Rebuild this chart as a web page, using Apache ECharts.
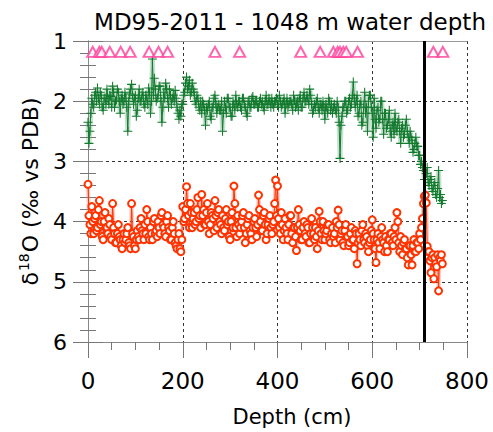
<!DOCTYPE html>
<html>
<head>
<meta charset="utf-8">
<script src="https://cdn.jsdelivr.net/npm/echarts@6/dist/echarts.min.js"></script>
<style>
html,body{margin:0;padding:0;background:#fff;}
#chart{width:493px;height:432px;}
</style>
</head>
<body>
<div id="chart"></div>
<script>
// Depth (cm) of samples
const depth = [
0,2,4,6,8,10,12,14,16,18,20,22,24,26,28,30,32,34,36,38,
40,42,44,46,48,50,52,54,56,58,60,62,64,66,68,70,72,74,76,78,
80,82,84,86,88,90,92,94,96,98,100,102,104,106,108,110,112,114,116,118,
120,122,124,126,128,130,132,134,136,138,140,142,144,146,148,150,152,154,156,158,
160,162,164,166,168,170,172,174,176,178,180,182,184,186,188,190,192,194,196,198,
200,202,204,206,208,210,212,214,216,218,220,222,224,226,228,230,232,234,236,238,
240,242,244,246,248,250,252,254,256,258,260,262,264,266,268,270,272,274,276,278,
280,282,284,286,288,290,292,294,296,298,300,302,304,306,308,310,312,314,316,318,
320,322,324,326,328,330,332,334,336,338,340,342,344,346,348,350,352,354,356,358,
360,362,364,366,368,370,372,374,376,378,380,382,384,386,388,390,392,394,396,398,
400,402,404,406,408,410,412,414,416,418,420,422,424,426,428,430,432,434,436,438,
440,442,444,446,448,450,452,454,456,458,460,462,464,466,468,470,472,474,476,478,
480,482,484,486,488,490,492,494,496,498,500,502,504,506,508,510,512,514,516,518,
520,522,524,526,528,530,532,534,536,538,540,542,544,546,548,550,552,554,556,558,
560,562,564,566,568,570,572,574,576,578,580,582,584,586,588,590,592,594,596,598,
600,602,604,606,608,610,612,614,616,618,620,622,624,626,628,630,632,634,636,638,
640,642,644,646,648,650,652,654,656,658,660,662,664,666,668,670,672,674,676,678,
680,682,684,686,688,690,692,694,696,698,700,702,704,706,708,710,712,714,716,718,
720,722,724,726,728,730,732,734,736,738,740,742,744,746,748
];
// Benthic d18O (green)
const benthic = [
2.35,2.7,2.5,2.2,1.95,2.05,2.1,1.9,1.85,2.0,1.78,1.95,2.05,1.85,1.9,2.1,2.15,1.95,1.95,2.05,
1.8,1.95,2.05,1.9,1.92,2.1,1.75,1.85,2.1,2.0,1.98,1.8,1.85,2.0,2.2,1.95,1.9,2.05,2.0,1.85,
1.95,2.1,2.5,2.0,1.88,1.8,1.72,1.9,2.05,1.95,1.9,2.25,2.15,1.95,1.8,2.0,2.0,1.9,1.85,2.05,
2.1,1.9,1.95,2.05,1.78,1.85,2.2,2.0,1.3,1.9,1.62,1.8,2.0,1.95,1.9,1.75,1.75,2.0,2.35,2.1,
1.85,1.95,1.7,1.8,1.95,2.1,1.8,1.9,2.05,1.95,1.9,2.0,1.82,1.95,2.1,2.2,2.3,2.15,2.25,2.05,
2.05,1.9,1.85,1.7,1.6,1.8,1.75,1.65,1.9,1.85,1.7,1.8,1.85,2.0,2.05,1.9,1.95,2.1,2.15,2.0,
2.2,2.0,2.05,2.15,2.4,2.1,2.15,2.05,2.0,2.25,2.3,2.1,2.1,1.95,1.9,2.05,2.2,2.1,2.05,2.15,
2.15,2.0,2.5,2.2,2.0,2.1,2.2,1.95,1.95,2.1,2.1,2.25,2.25,2.0,2.05,2.15,1.9,2.05,2.1,2.0,
2.0,2.1,2.15,1.95,1.95,2.05,2.1,2.2,2.25,2.0,2.0,2.1,2.1,1.95,1.92,2.05,2.05,2.0,2.0,2.1,
2.1,2.0,1.95,2.05,2.0,2.1,2.15,2.0,1.9,2.05,2.05,1.95,2.0,2.1,1.95,2.05,2.1,2.0,2.0,1.95,
2.05,2.1,1.9,2.0,2.1,2.05,2.0,1.95,2.2,2.05,1.95,2.1,2.05,2.0,2.0,2.05,2.15,1.9,1.98,2.1,
2.05,2.0,2.15,1.95,1.9,2.1,2.1,1.95,1.85,2.0,2.0,1.9,1.95,2.05,1.8,1.9,2.05,2.2,2.15,2.05,
2.1,2.0,1.95,2.1,2.2,2.05,2.05,2.15,2.0,2.1,2.3,2.05,2.1,2.2,1.95,2.0,2.15,2.05,2.2,2.1,
2.05,2.15,2.2,2.0,2.1,2.35,2.95,2.4,2.25,2.1,2.1,2.0,2.0,2.2,2.15,2.0,1.95,2.1,2.05,1.9,
1.68,1.95,2.1,2.0,1.9,2.25,2.2,2.05,2.0,2.4,2.35,2.1,1.85,2.2,2.1,2.5,2.0,1.9,1.9,2.1,
2.2,2.6,1.95,2.3,2.45,2.15,2.1,2.35,2.3,2.0,2.0,2.3,2.55,2.2,2.2,2.45,2.4,2.3,2.15,2.5,
2.6,2.4,2.35,2.55,2.2,2.45,2.5,2.35,2.3,2.5,2.7,2.45,2.4,2.6,2.55,2.4,2.3,2.5,2.6,2.7,
2.5,2.6,2.65,2.85,2.8,2.7,2.6,2.75,2.75,2.9,2.9,3.05,3.0,3.1,3.15,3.3,3.3,3.2,3.1,3.35,
3.4,3.3,3.25,3.45,3.5,3.4,3.35,3.55,3.6,3.45,3.15,3.6,3.55,3.7,3.65
];
// Planktonic d18O (red)
const planktonic = [
3.38,3.9,4.05,4.2,3.75,4.0,4.2,3.95,3.9,4.15,4.1,3.8,3.65,4.05,4.0,4.25,4.3,4.0,3.85,4.1,
4.1,4.2,3.95,4.05,4.25,4.3,3.7,4.1,4.2,4.35,4.35,4.2,4.05,4.25,4.3,4.4,4.45,4.3,4.2,4.35,
4.3,4.2,4.1,4.35,4.4,4.45,3.7,4.2,4.25,4.4,4.45,4.3,4.15,4.25,4.3,4.1,3.95,4.15,4.2,4.3,
4.05,4.2,3.8,4.0,4.25,4.3,4.1,4.2,4.3,4.0,3.95,4.2,4.15,4.25,4.0,4.1,4.2,3.9,3.85,4.05,
4.1,4.2,4.25,4.0,3.9,4.1,4.15,4.3,4.3,4.1,4.0,4.2,4.35,4.4,4.45,4.3,4.2,4.45,4.5,4.3,
3.75,4.0,3.95,3.8,3.42,3.7,3.9,4.1,3.7,3.85,4.1,3.95,3.85,4.05,4.0,3.8,3.6,3.95,3.9,4.1,
3.55,3.9,3.8,4.05,4.05,3.85,3.7,4.0,4.2,4.05,3.85,3.9,3.95,4.15,3.65,3.9,4.1,3.85,3.8,4.0,
4.05,4.2,3.9,4.1,4.15,3.95,3.8,4.05,4.0,4.25,4.3,4.0,3.85,4.1,3.41,3.7,4.1,4.25,3.9,4.05,
4.2,4.1,4.0,3.9,3.85,4.1,4.35,4.2,4.05,3.95,3.9,4.15,4.2,4.3,4.1,4.0,3.95,4.1,4.25,4.05,
3.56,3.8,4.0,4.15,4.15,3.9,3.85,4.05,4.3,4.2,4.05,3.95,3.9,4.1,4.2,4.05,4.0,3.7,3.31,3.9,
3.41,3.95,4.1,4.2,3.85,4.05,4.3,4.15,3.95,4.1,4.2,4.3,4.05,3.9,3.9,4.2,4.35,4.1,4.1,4.25,
4.48,4.1,3.8,4.05,4.15,4.3,4.3,4.1,4.0,4.2,4.25,4.05,4.1,4.35,4.35,4.2,3.95,4.1,4.2,4.3,
4.1,4.25,4.45,4.15,3.83,4.0,4.2,4.3,4.0,4.15,4.3,4.2,4.15,4.05,4.05,4.3,4.35,4.2,4.1,4.25,
4.2,4.35,4.0,4.1,3.81,4.05,4.3,4.2,4.15,4.35,4.4,4.15,4.05,4.25,4.25,4.4,4.35,4.2,4.1,4.3,
4.3,4.45,4.15,4.2,4.7,4.35,4.2,4.3,4.4,4.15,4.05,4.3,4.35,4.2,4.25,4.4,4.5,4.35,4.3,4.15,
3.97,4.2,4.3,4.45,4.68,4.3,4.2,4.35,4.45,4.25,4.1,4.3,4.35,4.5,4.25,4.4,4.5,4.3,4.3,4.2,
4.2,4.35,4.4,4.25,4.1,4.3,3.85,4.0,4.35,4.5,4.25,4.4,4.55,4.35,4.3,4.45,4.45,4.6,4.72,4.4,
4.4,4.55,4.72,4.4,4.3,4.5,4.5,4.35,4.35,4.45,4.2,4.3,4.1,3.95,3.7,3.58,3.56,3.69,4.41,4.5,
4.5,4.65,4.85,4.6,4.55,4.95,4.6,4.7,4.75,4.55,5.15,4.6,4.65,4.55,4.7
];
// Age-control markers (triangles) and boundary line
const markerDepth = [10,24,29,46,69,89,129,149,168,268,320,449,490,518,527,532,539,545,569,729,749];
const markerLevel = 1.18;
const boundaryDepth = 710;

const FONT = 'DejaVu Sans';
const green = '#137a2e';
const red = '#ff3300';
const pink = '#ff3d9a';

const benthicData = depth.map((d, i) => [d, benthic[i]]);
const planktonicData = depth.map((d, i) => [d, planktonic[i]]);
const markerData = markerDepth.map(d => [d, markerLevel]);

const chart = echarts.init(document.getElementById('chart'), null, {renderer: 'svg'});

const yAxisBase = {
  type: 'value', inverse: true, min: 1, max: 6, interval: 1,
  axisLine: {show: true, lineStyle: {color: '#888', width: 1}},
  axisTick: {show: true, inside: false, length: 15, lineStyle: {color: '#777', width: 1}},
  minorTick: {show: true, splitNumber: 5, length: 8, lineStyle: {color: '#777', width: 1}}
};

chart.setOption({
  animation: false,
  textStyle: {fontFamily: FONT},
  title: {
    text: 'MD95-2011 - 1048 m water depth',
    left: 285, top: 5, textAlign: 'center',
    textStyle: {fontFamily: FONT, fontSize: 23, fontWeight: 'normal', color: '#000'}
  },
  grid: {left: 88, right: 26, top: 41, bottom: 90},
  xAxis: [{
    type: 'value', min: 0, max: 800, interval: 200, position: 'bottom',
    axisLine: {show: true, onZero: false, lineStyle: {color: '#888', width: 1}},
    axisTick: {show: true, length: 16, lineStyle: {color: '#777', width: 1}},
    minorTick: {show: true, splitNumber: 4, length: 8, lineStyle: {color: '#777', width: 1}},
    splitLine: {show: true, lineStyle: {type: [3, 3], color: '#333', width: 1}},
    axisLabel: {fontFamily: FONT, fontSize: 23, color: '#000', margin: 27}
  }, {
    type: 'value', min: 0, max: 800, position: 'top',
    axisLine: {show: true, onZero: false, lineStyle: {color: '#999', width: 1}},
    axisTick: {show: false}, axisLabel: {show: false}, splitLine: {show: false}
  }],
  yAxis: [Object.assign({}, yAxisBase, {
    position: 'left',
    splitLine: {show: true, lineStyle: {type: [3, 3], color: '#333', width: 1}},
    axisLabel: {fontFamily: FONT, fontSize: 22, color: '#000', margin: 21},
    name: '{a|δ}{b|18}{a|O (‰ vs PDB)}',
    nameLocation: 'middle', nameRotate: 90, nameGap: 45,
    nameTextStyle: {
      rich: {
        a: {fontFamily: FONT, fontSize: 22, color: '#000', lineHeight: 26},
        b: {fontFamily: FONT, fontSize: 14, color: '#000', verticalAlign: 'top', lineHeight: 26, padding: [0, 1, 10, 1]}
      }
    }
  }), Object.assign({}, yAxisBase, {
    position: 'right',
    splitLine: {show: false},
    axisLabel: {show: false}
  })],
  graphic: [{
    type: 'text', x: 292, y: 417,
    style: {text: 'Depth (cm)', fill: '#000', font: '21px "DejaVu Sans"',
      textAlign: 'center', textVerticalAlign: 'middle', align: 'center', verticalAlign: 'middle'}
  }],
  series: [{
    type: 'line', data: benthicData, xAxisIndex: 0, yAxisIndex: 0,
    showSymbol: false, symbol: 'none', silent: true,
    lineStyle: {color: 'rgba(70,160,100,0.3)', width: 5}, z: 1
  }, {
    type: 'line', data: benthicData, xAxisIndex: 0, yAxisIndex: 0,
    symbol: 'path://M4.4,0H5.6V4.4H10V5.6H5.6V10H4.4V5.6H0V4.4H4.4Z', symbolSize: 9,
    itemStyle: {color: green}, lineStyle: {color: green, width: 1}, z: 2
  }, {
    type: 'line', data: planktonicData, xAxisIndex: 0, yAxisIndex: 0,
    showSymbol: false, symbol: 'none', silent: true,
    lineStyle: {color: 'rgba(255,110,90,0.35)', width: 4}, z: 1
  }, {
    type: 'line', data: planktonicData, xAxisIndex: 0, yAxisIndex: 0,
    symbol: 'emptyCircle', symbolSize: 7,
    itemStyle: {color: red, borderColor: red, borderWidth: 1},
    lineStyle: {color: red, width: 1}, z: 3
  }, {
    type: 'scatter', data: markerData, xAxisIndex: 0, yAxisIndex: 0,
    symbol: 'emptyTriangle', symbolSize: [11, 10],
    itemStyle: {color: pink, borderColor: pink, borderWidth: 1}, z: 4,
    markLine: {
      silent: true, symbol: ['none', 'none'], label: {show: false},
      lineStyle: {color: '#000', width: 3, type: 'solid'},
      data: [{xAxis: boundaryDepth}]
    }
  }]
});
</script>
</body>
</html>
